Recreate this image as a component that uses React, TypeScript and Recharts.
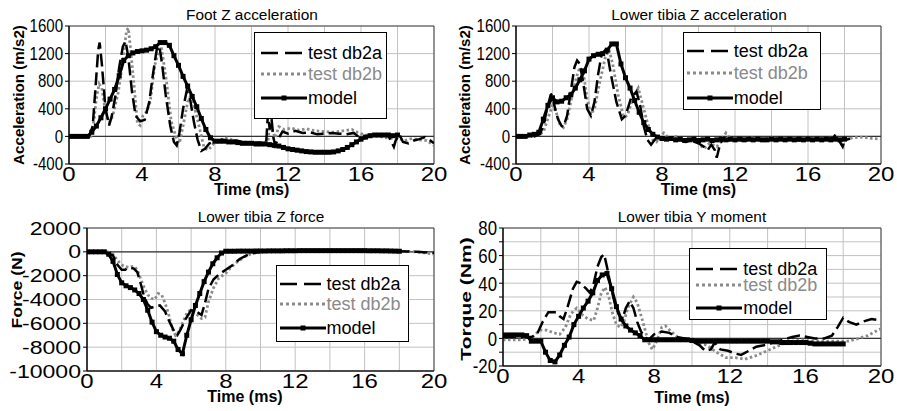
import React from 'react';
import { LineChart, Line, XAxis, YAxis, CartesianGrid, ReferenceLine, ReferenceArea, Legend } from 'recharts';

type P = [number, number];

const SANS = '"Liberation Sans", Arial, Helvetica, sans-serif';
const seriesNames = ['test db2a', 'test db2b', 'model'];
const timeTicks = [0, 2, 4, 6, 8, 10, 12, 14, 16, 18, 20];
const modelTimes = [
  0, 0.25, 0.5, 0.75, 1, 1.25, 1.5, 1.75, 2, 2.25, 2.5, 2.75, 3, 3.25, 3.5, 3.75, 4, 4.25, 4.5, 4.75,
  5, 5.25, 5.5, 5.75, 6, 6.25, 6.5, 6.75, 7, 7.25, 7.5, 7.75, 8, 8.25, 8.5, 8.75, 9, 9.25, 9.5, 9.75,
  10, 10.25, 10.5, 10.75, 11, 11.25, 11.5, 11.75, 12, 12.25, 12.5, 12.75, 13, 13.25, 13.5, 13.75, 14,
  14.25, 14.5, 14.75, 15, 15.25, 15.5, 15.75, 16, 16.25, 16.5, 16.75, 17, 17.25, 17.5, 17.75, 18,
];

// ---------- Foot Z acceleration ----------
const footTicks = [-400, 0, 400, 800, 1200, 1600];
const footDb2a: P[] = [[0,0],[0.5,10],[1.1,0],[1.3,150],[1.45,700],[1.6,1250],[1.68,1360],[1.8,1050],[2.0,400],[2.2,160],[2.35,300],[2.55,600],[2.75,1000],[2.95,1300],[3.1,1380],[3.25,1150],[3.45,650],[3.65,300],[3.9,220],[4.15,240],[4.4,500],[4.6,900],[4.8,1250],[4.95,1310],[5.1,1050],[5.3,600],[5.55,150],[5.75,-80],[5.9,-130],[6.05,50],[6.25,400],[6.45,660],[6.65,520],[6.85,200],[7.05,-50],[7.25,-210],[7.45,-180],[7.7,-100],[8.0,-70],[8.4,-50],[8.8,-70],[9.2,-60],[9.6,-90],[10.0,-100],[10.4,-90],[10.8,-110],[10.9,330],[11.0,100],[11.1,250],[11.2,-20],[11.3,-130],[11.45,-40],[11.7,70],[12.0,40],[12.4,80],[12.8,50],[13.2,60],[13.6,30],[14.0,40],[14.4,50],[14.8,40],[15.2,30],[15.6,50],[15.9,-10],[16.2,-30],[16.5,20],[17.0,30],[17.5,10],[17.8,-150],[17.9,-60],[18.1,30],[18.3,-80],[18.6,-100],[18.9,-60],[19.2,-40],[19.5,-10],[19.8,-60],[20,-100]];
const footDb2b: P[] = [[0,0],[1.2,0],[1.35,200],[1.5,550],[1.65,760],[1.8,700],[2.0,350],[2.2,200],[2.4,300],[2.7,640],[2.95,1100],[3.15,1530],[3.25,1570],[3.4,1200],[3.55,780],[3.75,190],[3.9,160],[4.05,300],[4.25,360],[4.45,500],[4.7,1030],[4.95,1270],[5.05,1300],[5.2,1050],[5.35,780],[5.6,220],[5.85,0],[6.05,-100],[6.25,150],[6.5,500],[6.7,610],[6.9,400],[7.15,120],[7.4,-160],[7.6,-200],[7.8,-150],[8.0,-80],[8.4,-40],[8.7,-20],[9.0,-60],[9.5,-80],[10.0,-90],[10.5,-90],[10.9,-80],[11.0,200],[11.15,80],[11.3,-20],[11.5,140],[11.8,100],[12.2,120],[12.6,90],[13.0,110],[13.5,80],[14.0,70],[14.5,60],[15.0,80],[15.5,100],[15.8,60],[16.2,20],[16.7,10],[17.2,-10],[17.6,-30],[18.0,-30],[18.4,-60],[18.8,-30],[19.2,-50],[19.6,-60],[20,-130]];
const footModel = [0,0,0,0,0,60,150,270,400,540,680,880,1100,1170,1210,1230,1240,1250,1270,1300,1360,1360,1320,1170,1030,870,730,580,430,260,100,-20,-70,-70,-70,-80,-80,-90,-100,-100,-100,-110,-110,-110,-120,-130,-140,-160,-180,-190,-200,-210,-220,-225,-230,-230,-230,-230,-225,-210,-190,-160,-120,-80,-40,-10,10,20,20,20,20,10,20];

// ---------- Lower tibia Z acceleration ----------
const tibAccDb2a: P[] = [[0,0],[0.5,10],[1.0,0],[1.3,30],[1.5,150],[1.7,400],[1.9,600],[2.0,620],[2.1,450],[2.3,250],[2.5,150],[2.6,140],[2.8,300],[3.0,650],[3.2,1000],[3.35,1100],[3.5,1050],[3.7,750],[3.9,400],[4.1,300],[4.3,500],[4.5,900],[4.7,1200],[4.9,1250],[5.0,1200],[5.2,900],[5.5,500],[5.8,250],[6.0,300],[6.3,550],[6.6,650],[6.8,450],[7.0,150],[7.2,-50],[7.4,-120],[7.6,-50],[7.8,0],[8.0,-40],[8.3,-20],[8.6,-60],[9.0,-50],[9.3,-80],[9.6,-60],[10.0,-100],[10.3,-150],[10.5,-200],[10.7,-120],[10.9,-200],[11.0,-310],[11.1,-200],[11.2,-100],[11.4,-20],[11.6,-60],[12.0,-40],[12.5,-60],[13.0,-40],[13.5,-60],[14.0,-40],[14.5,-50],[15.0,-40],[15.5,-60],[16.0,-40],[16.5,-50],[17.0,-40],[17.4,-20],[17.5,30],[17.7,-60],[17.9,-150],[18.0,-60],[18.3,-30]];
const tibAccDb2b: P[] = [[0,0],[1.0,0],[1.5,60],[1.8,300],[2.0,450],[2.2,350],[2.4,180],[2.6,130],[2.8,250],[3.0,500],[3.3,850],[3.5,1000],[3.7,900],[3.9,550],[4.1,320],[4.3,400],[4.6,800],[4.9,1150],[5.1,1250],[5.3,1050],[5.6,600],[5.9,280],[6.1,300],[6.4,550],[6.7,700],[6.9,500],[7.2,200],[7.5,-50],[7.7,-80],[7.9,0],[8.1,50],[8.4,-30],[8.8,0],[9.2,-60],[9.6,-40],[10.0,-100],[10.3,-180],[10.6,-100],[11.0,-150],[11.2,-80],[11.5,50],[11.8,-50],[12.2,-40],[12.8,-20],[13.5,-40],[14.0,-20],[14.5,-40],[15.0,-30],[15.5,-30],[16.0,-40],[16.5,-30],[17.0,-30],[17.5,-50],[18.0,-40],[18.5,-20],[19.0,-10],[19.5,-30],[20,-40]];
const tibAccModel = [0,0,0,20,30,60,250,450,560,500,510,560,600,700,820,950,1120,1170,1190,1200,1250,1340,1340,1050,850,700,520,350,200,100,30,-10,-30,-40,-30,-50,-40,-60,-50,-40,-60,-50,-40,-60,-50,-40,-50,-40,-50,-40,-50,-40,-50,-40,-50,-50,-40,-50,-40,-50,-40,-50,-40,-50,-40,-50,-40,-50,-40,-50,-40,-50,-40];

// ---------- Lower tibia Z force ----------
const forceTicks = [-10000, -8000, -6000, -4000, -2000, 0, 2000];
const forceDb2a: P[] = [[0,0],[1.0,0],[1.5,-300],[1.7,-1000],[2.0,-1500],[2.2,-1500],[2.4,-1300],[2.7,-1400],[2.9,-1700],[3.1,-2700],[3.3,-3800],[3.5,-4400],[3.7,-4700],[3.9,-4600],[4.2,-4500],[4.5,-5000],[4.7,-5700],[4.9,-6300],[5.1,-6900],[5.2,-7000],[5.4,-6500],[5.7,-5600],[6.0,-4900],[6.3,-5000],[6.6,-5300],[6.8,-4300],[7.0,-3100],[7.3,-2300],[7.6,-1900],[8.0,-1500],[8.4,-1100],[8.8,-600],[9.2,-300],[9.6,-100],[10,0],[10.5,50],[11,80],[12,100],[13,100],[14,100],[15,100],[16,100],[17,80],[18,50],[19,0],[20,-100]];
const forceDb2b: P[] = [[0,0],[1.2,0],[1.5,-200],[1.8,-800],[2.1,-1200],[2.4,-1300],[2.7,-1200],[2.9,-1500],[3.1,-2300],[3.3,-3000],[3.5,-3600],[3.7,-3900],[3.9,-4000],[4.1,-3500],[4.3,-3600],[4.5,-4300],[4.7,-5200],[4.9,-6400],[5.1,-7000],[5.3,-6700],[5.5,-6000],[5.8,-5000],[6.0,-4900],[6.3,-5200],[6.6,-5600],[6.8,-5500],[7.0,-4200],[7.3,-3000],[7.6,-2200],[8.0,-1800],[8.3,-1300],[8.7,-800],[9.1,-400],[9.5,-150],[10,0],[11,100],[11.5,200],[12,100],[13,100],[14,80],[15,100],[16,100],[17,80],[18,50],[19,0],[20,-200]];
const forceModel = [0,0,0,0,0,-200,-800,-1900,-2600,-2850,-3000,-3200,-3500,-4000,-4900,-5900,-6700,-7000,-7150,-7250,-7500,-8200,-8550,-7000,-5700,-4500,-3500,-2500,-1700,-1000,-500,-100,50,50,50,60,60,60,60,70,70,70,80,80,80,80,90,90,90,100,100,100,100,100,100,100,100,100,100,100,100,100,100,100,100,90,90,90,80,80,70,60,50];

// ---------- Lower tibia Y moment ----------
const momentTicks = [-20, -10, 0, 10, 20, 30, 40, 50, 60, 70, 80];
const momentDb2a: P[] = [[0,1],[1.0,1],[1.5,1],[1.8,3],[2.1,12],[2.4,19],[2.8,19],[3.0,16],[3.2,14],[3.4,22],[3.7,36],[3.9,41],[4.1,40],[4.4,36],[4.6,33],[4.8,40],[5.0,52],[5.2,59],[5.35,61],[5.5,52],[5.7,38],[5.9,26],[6.1,18],[6.3,13],[6.5,22],[6.7,27],[6.9,22],[7.1,12],[7.3,5],[7.5,1],[7.7,-1],[8.0,3],[8.4,5],[8.8,4],[9.2,1],[9.6,0],[10.0,-2],[10.4,-5],[10.7,-9],[11.0,-8],[11.2,-3],[11.5,-8],[11.9,-9],[12.3,-11],[12.6,-12],[13.0,-9],[13.4,-6],[13.8,-5],[14.3,-3],[14.8,-1],[15.3,1],[15.7,2],[16.1,1],[16.5,0],[17.0,0],[17.4,2],[17.7,8],[18.0,15],[18.3,12],[18.7,10],[19.0,12],[19.5,14],[20,13]];
const momentDb2b: P[] = [[0,-1],[1.0,-1],[1.5,0],[1.8,4],[2.0,6],[2.3,6],[2.7,4],[3.0,3],[3.3,8],[3.6,18],[3.9,22],[4.2,17],[4.5,14],[4.8,13],[5.0,22],[5.2,33],[5.4,37],[5.6,30],[5.8,18],[6.0,10],[6.2,8],[6.4,12],[6.6,22],[6.9,30],[7.1,26],[7.4,12],[7.7,-3],[7.9,-8],[8.1,-3],[8.4,8],[8.6,9],[8.9,5],[9.3,0],[9.8,-2],[10.3,-3],[10.8,-5],[11.3,-10],[11.8,-14],[12.3,-14],[12.8,-15],[13.3,-13],[13.8,-10],[14.3,-7],[14.8,-4],[15.3,-2],[15.8,-1],[16.3,-2],[16.8,-2],[17.3,-2],[17.8,-2],[18.3,-2],[18.8,0],[19.3,2],[19.7,5],[20,7]];
const momentModel = [2.5,2.5,2.5,2.5,2.5,2,-2,-2,-2,-10,-16,-17,-12,-5,1,10,16,22,27,33,42,46,47,36,23,14,9,6,4,2,-1,-1,-1,-1,-1,-1,-1,-1,-1,-1,-1.5,-2,-2,-2,-2,-2,-2,-2,-2,-2,-2,-2,-2,-2,-2,-2,-2,-2.5,-2.5,-3,-3,-3,-3,-3,-3,-3.5,-4,-4,-4,-4,-4,-4,-4];

const pairRows = (arr: P[]) => arr.map(([t, v]) => ({ t, v }));
const modelRows = (vals: number[]) => vals.map((v, i) => ({ t: modelTimes[i], v }));

const SquareDot = (props: any) => {
  const { cx, cy, index } = props;
  if (cx == null || cy == null) return <g key={`d${index}`} />;
  return <rect key={`d${index}`} x={cx - 2.5} y={cy - 2.5} width={5} height={5} fill="#000" />;
};

const makeXTick = (fs: number, sx: number) => (props: any) => {
  const { x, y, payload } = props;
  const v = payload.value;
  if (v % 4 !== 0) return <g />;
  return (
    <g transform={`translate(${x},${y}) scale(${sx},1)`}>
      <text x={0} y={0} dy="0.71em" textAnchor="middle" fontSize={fs} fontFamily={SANS} fill="#000">{v}</text>
    </g>
  );
};

const makeYTick = (fs: number, sx: number, every: number) => (props: any) => {
  const { x, y, payload } = props;
  const v = payload.value;
  if (v % every !== 0) return <g />;
  return (
    <g transform={`translate(${x},${y}) scale(${sx},1)`}>
      <text x={0} y={0} dy="0.355em" textAnchor="end" fontSize={fs} fontFamily={SANS} fill="#000">{v}</text>
    </g>
  );
};

const GRAY = '#8a8a8a';

type LegendCfg = { left: number; top: number; w: number; h: number; rows: number[]; lineX: number };

const LegendBox = ({ cfg }: { cfg: LegendCfg }) => {
  const styles = [
    { stroke: '#000', dash: '17 7', width: 2.6, color: '#000', marker: false },
    { stroke: GRAY, dash: '3 3', width: 2.8, color: GRAY, marker: false },
    { stroke: '#000', dash: undefined, width: 3.2, color: '#000', marker: true },
  ];
  return (
    <div style={{ position: 'relative', width: cfg.w, height: cfg.h, border: '1px solid #000', background: '#fff', boxSizing: 'border-box' }}>
      {seriesNames.map((name, i) => {
        const s = styles[i];
        return (
          <div key={name} style={{ position: 'absolute', left: 0, top: cfg.rows[i] - 8, height: 16, width: cfg.w }}>
            <svg width={48} height={16} style={{ position: 'absolute', left: cfg.lineX, top: 0 }}>
              <line x1={0} y1={8} x2={46} y2={8} stroke={s.stroke} strokeWidth={s.width} strokeDasharray={s.dash} />
              {s.marker && <rect x={20.5} y={5.5} width={5} height={5} fill="#000" />}
            </svg>
            <span style={{ position: 'absolute', left: cfg.lineX + 47, top: 0, lineHeight: '16px', fontSize: 18, fontFamily: SANS, color: s.color, whiteSpace: 'nowrap' }}>{name}</span>
          </div>
        );
      })}
    </div>
  );
};

type PanelCfg = {
  left: number; top: number; width: number; height: number;
  plotTop: number; marginRight: number; yAxisWidth: number; xAxisHeight: number;
  yDomain: [number, number]; yTicks: number[]; yEvery: number;
  yFs: number; ySx: number; xFs: number; xSx: number;
  db2a: P[]; db2b: P[]; model: number[];
  title: string; titlePos: [number, number];
  xLabelPos: [number, number];
  yLabel: string; yLabelPos: [number, number]; yLabelScale: number;
  legend: LegendCfg;
};

const Panel = ({ c }: { c: PanelCfg }) => (
  <div style={{ position: 'absolute', left: c.left, top: c.top, width: c.width, height: c.height }}>
    <LineChart width={c.width} height={c.height} margin={{ top: c.plotTop, right: c.marginRight, bottom: 0, left: 0 }}>
      <CartesianGrid stroke="#c2c2c2" strokeWidth={1} />
      <ReferenceArea x1={0} x2={20} y1={c.yDomain[0]} y2={c.yDomain[1]} fill="none" fillOpacity={0} stroke="#444" strokeWidth={1} ifOverflow="visible" />
      <XAxis dataKey="t" type="number" domain={[0, 20]} ticks={timeTicks} interval={0} allowDataOverflow
        tickSize={0} tickMargin={2} tickLine={false} axisLine={{ stroke: '#000', strokeWidth: 1.2 }}
        height={c.xAxisHeight} tick={makeXTick(c.xFs, c.xSx)} />
      <YAxis type="number" domain={c.yDomain} ticks={c.yTicks} interval={0} allowDataOverflow width={c.yAxisWidth}
        tickSize={4} tickMargin={2} tickLine={{ stroke: '#000' }} axisLine={{ stroke: '#000', strokeWidth: 1.2 }}
        tick={makeYTick(c.yFs, c.ySx, c.yEvery)} />
      <ReferenceLine y={0} stroke="#333" strokeWidth={1.2} />
      <Line data={pairRows(c.db2b)} dataKey="v" name={seriesNames[1]} type="linear" stroke={GRAY} strokeWidth={2.8} strokeDasharray="2.5 2.5" dot={false} isAnimationActive={false} />
      <Line data={pairRows(c.db2a)} dataKey="v" name={seriesNames[0]} type="linear" stroke="#000" strokeWidth={2.5} strokeDasharray="13 5" dot={false} isAnimationActive={false} />
      <Line data={modelRows(c.model)} dataKey="v" name={seriesNames[2]} type="linear" stroke="#000" strokeWidth={3} dot={SquareDot} isAnimationActive={false} />
      <Legend layout="vertical" align="center" verticalAlign="middle"
        wrapperStyle={{ left: c.legend.left, top: c.legend.top, width: c.legend.w, height: c.legend.h }}
        content={() => <LegendBox cfg={c.legend} />} />
    </LineChart>
    <div style={{ position: 'absolute', left: c.titlePos[0], top: c.titlePos[1], transform: 'translate(-50%,-50%) scaleX(1.1)', fontFamily: SANS, fontSize: 14, lineHeight: 1, whiteSpace: 'nowrap', color: '#000' }}>{c.title}</div>
    <div style={{ position: 'absolute', left: c.xLabelPos[0], top: c.xLabelPos[1], transform: 'translate(-50%,-50%)', fontFamily: SANS, fontSize: 16, fontWeight: 'bold', lineHeight: 1, whiteSpace: 'nowrap', color: '#000' }}>Time (ms)</div>
    <div style={{ position: 'absolute', left: c.yLabelPos[0], top: c.yLabelPos[1], transform: `translate(-50%,-50%) rotate(-90deg) scaleX(${c.yLabelScale})`, fontFamily: SANS, fontSize: 15, fontWeight: 'bold', lineHeight: 1, whiteSpace: 'nowrap', color: '#000' }}>{c.yLabel}</div>
  </div>
);

const panels: PanelCfg[] = [
  {
    left: 0, top: 0, width: 452, height: 205, plotTop: 26, marginRight: 18, yAxisWidth: 69, xAxisHeight: 41,
    yDomain: [-400, 1600], yTicks: footTicks, yEvery: 400, yFs: 17.5, ySx: 0.86, xFs: 20.5, xSx: 1.17,
    db2a: footDb2a, db2b: footDb2b, model: footModel,
    title: 'Foot Z acceleration', titlePos: [252, 15], xLabelPos: [251.7, 190],
    yLabel: 'Acceleration (m/s2)', yLabelPos: [17.5, 95], yLabelScale: 1.01,
    legend: { left: 254, top: 32, w: 133, h: 87, rows: [20, 41, 65], lineX: 6 },
  },
  {
    left: 448, top: 0, width: 449, height: 205, plotTop: 26, marginRight: 16, yAxisWidth: 68, xAxisHeight: 41,
    yDomain: [-400, 1600], yTicks: footTicks, yEvery: 400, yFs: 17.5, ySx: 0.86, xFs: 20.5, xSx: 1.17,
    db2a: tibAccDb2a, db2b: tibAccDb2b, model: tibAccModel,
    title: 'Lower tibia Z acceleration', titlePos: [250.5, 15], xLabelPos: [250.5, 190],
    yLabel: 'Acceleration (m/s2)', yLabelPos: [15.7, 95], yLabelScale: 1.01,
    legend: { left: 234.7, top: 32, w: 138, h: 78, rows: [18, 40, 65], lineX: 3 },
  },
  {
    left: 0, top: 205, width: 452, height: 206, plotTop: 23, marginRight: 18, yAxisWidth: 87, xAxisHeight: 40,
    yDomain: [-10000, 2000], yTicks: forceTicks, yEvery: 2000, yFs: 18.6, ySx: 1.24, xFs: 20.5, xSx: 1.17,
    db2a: forceDb2a, db2b: forceDb2b, model: forceModel,
    title: 'Lower tibia Z force', titlePos: [260.5, 11.7], xLabelPos: [245, 191.5],
    yLabel: 'Force (N)', yLabelPos: [16, 85], yLabelScale: 1.17,
    legend: { left: 276, top: 60, w: 133, h: 77, rows: [18.3, 38.3, 61.7], lineX: 2.5 },
  },
  {
    left: 448, top: 205, width: 449, height: 206, plotTop: 23, marginRight: 16, yAxisWidth: 55, xAxisHeight: 45,
    yDomain: [-20, 80], yTicks: momentTicks, yEvery: 20, yFs: 21, ySx: 0.8, xFs: 20.5, xSx: 1.17,
    db2a: momentDb2a, db2b: momentDb2b, model: momentModel,
    title: 'Lower tibia Y moment', titlePos: [244, 11.7], xLabelPos: [244, 192.5],
    yLabel: 'Torque (Nm)', yLabelPos: [17, 94.2], yLabelScale: 1.4,
    legend: { left: 240.7, top: 43, w: 138, h: 72, rows: [19.5, 36, 59], lineX: 6.5 },
  },
];

export default function App() {
  return (
    <div style={{ position: 'absolute', left: 0, top: 0, width: 897, height: 411, background: '#fff', overflow: 'hidden' }}>
      {panels.map((c, i) => <Panel key={i} c={c} />)}
    </div>
  );
}
